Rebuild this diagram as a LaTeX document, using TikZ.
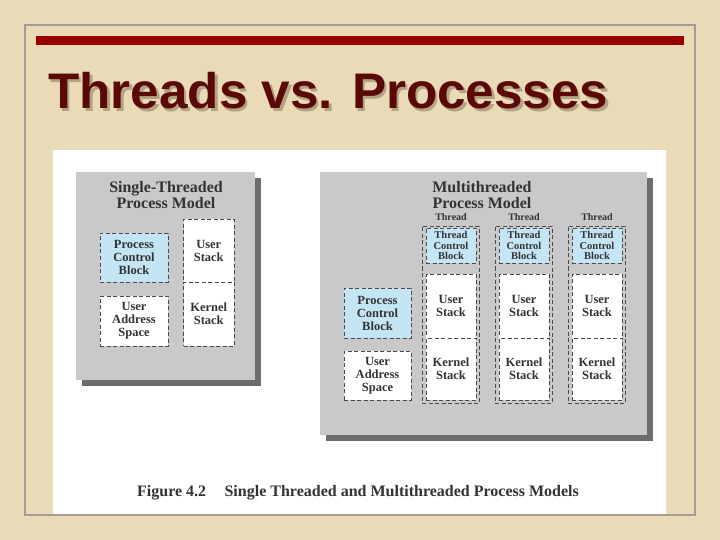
\documentclass[tikz,border=0pt]{standalone}
\usepackage{fontspec}
\setmainfont{Liberation Serif}
\newfontfamily\titlefont{Liberation Sans}
\definecolor{parch}{HTML}{EADBB8}
\definecolor{framec}{HTML}{A39C94}
\definecolor{barred}{HTML}{990000}
\definecolor{titlec}{HTML}{5A0808}
\definecolor{titleshadow}{HTML}{B3A285}
\definecolor{panelc}{HTML}{C9C9CB}
\definecolor{shadowc}{HTML}{6D6D70}
\definecolor{bluec}{HTML}{C4E5F6}
\definecolor{dashc}{HTML}{4A4A4A}
\definecolor{txtc}{HTML}{333333}
\newcommand{\shadowtext}[1]{\rlap{\kern2.5pt\raisebox{-2.5pt}{\textcolor{titleshadow}{#1}}}#1}
\tikzset{
  dbox/.style={draw=dashc, dash pattern=on 4pt off 2.5pt, line width=0.8pt, inner sep=0pt,
    align=center, text=txtc, font=\bfseries\fontsize{12.5}{13}\selectfont},
  bluebox/.style={dbox, fill=bluec},
  whitebox/.style={dbox, fill=white},
  tcb/.style={bluebox, minimum width=50pt, minimum height=35pt, font=\bfseries\fontsize{10.5}{10.7}\selectfont},
  outerbox/.style={draw=dashc, dash pattern=on 4pt off 2.5pt, line width=0.8pt, inner sep=0pt, minimum width=57pt, minimum height=177pt},
  thlabel/.style={text=txtc, font=\bfseries\fontsize{10}{11}\selectfont, inner sep=0pt},
  ptitle/.style={text=txtc, align=center, font=\bfseries\fontsize{16}{16}\selectfont, inner sep=0pt},
}
\begin{document}
\begin{tikzpicture}[x=1pt,y=-1pt]
\useasboundingbox (0,0) rectangle (720,540);
\fill[parch] (0,0) rectangle (720,540);
% white figure area
\fill[white] (53,150) rectangle (666,515);
% frame
\draw[framec, line width=2pt] (25,25) rectangle (695,515);
% red bar
\fill[barred] (36,36) rectangle (684,45);
% title (with drop shadow)
\node[anchor=base west, inner sep=0pt, text=titlec, xscale=1.025, font=\titlefont\bfseries\fontsize{50}{60}\selectfont] (title) at (48,109) {\shadowtext{Threads vs. Processes}};

% ---------- single-threaded panel
\fill[shadowc] (82,178) rectangle (261,386);
\fill[panelc] (76,172) rectangle (255,380);
\node[ptitle] (stitle) at (166,195) {Single-Threaded\\Process Model};
\node[bluebox, minimum width=68pt, minimum height=49pt] (spcb) at (134,257.5) {Process\\Control\\Block};
\node[whitebox, minimum width=68pt, minimum height=50pt] (suas) at (134,321) {User\\Address\\Space};
\node[whitebox, minimum width=50.5pt, minimum height=63pt] (sus) at (208.75,250.5) {User\\Stack};
\node[whitebox, minimum width=50.5pt, minimum height=64pt] (sks) at (208.75,314) {Kernel\\Stack};

% ---------- multithreaded panel
\fill[shadowc] (326,178) rectangle (653,441);
\fill[panelc] (320,172) rectangle (647,435);
\node[ptitle] (mtitle) at (482,195) {Multithreaded\\Process Model};
\node[bluebox, minimum width=67pt, minimum height=50pt] (mpcb) at (377.5,313) {Process\\Control\\Block};
\node[whitebox, minimum width=67pt, minimum height=49pt] (muas) at (377.5,375.5) {User\\Address\\Space};
\foreach \i/\cx in {1/451,2/524,3/597}{
  \node[thlabel] (thl\i) at (\cx,217.5) {Thread};
  \node[outerbox] (tho\i) at (\cx-0.5,314.5) {};
  \node[tcb] (tcb\i) at (\cx,245.5) {Thread\\Control\\Block};
  \node[whitebox, minimum width=50pt, minimum height=64pt] (tus\i) at (\cx,306) {User\\Stack};
  \node[whitebox, minimum width=50pt, minimum height=62pt] (tks\i) at (\cx,369) {Kernel\\Stack};
}

% caption
\node[text=txtc, inner sep=0pt, font=\bfseries\fontsize{16}{16}\selectfont] (caption) at (358,493) {Figure 4.2\hspace{0.9em} Single Threaded and Multithreaded Process Models};
\end{tikzpicture}
\end{document}
